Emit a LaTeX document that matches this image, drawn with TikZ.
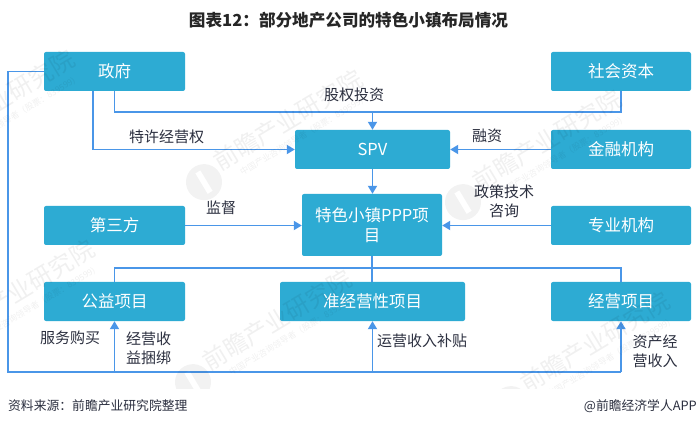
\documentclass[tikz,border=0pt]{standalone}
\usepackage{fontspec}
\setmainfont{Noto Sans CJK SC}
\usetikzlibrary{arrows.meta}
\definecolor{boxc}{HTML}{2DABD3}
\definecolor{linec}{HTML}{4A96E8}
\definecolor{labc}{HTML}{2B2F3F}
\newcommand{\wmark}[3]{%
  \begin{scope}[shift={(#1,#2)},rotate=31]
    \node[wmtext,transform shape,font=\fontsize{24}{24}\selectfont] (wm#3a) at (0,0) {前瞻产业研究院};
    \node[wmtext,transform shape,font=\fontsize{8.5}{9}\selectfont] (wm#3b) at (6,21) {中国产业咨询领导者（股票：839599）};
    \fill[black,opacity=.05,even odd rule] (-104,10) circle (18) (-107,-2) rectangle (-101,22);
  \end{scope}}
\tikzset{
  x=1pt,y=-1pt,
  wmtext/.style={inner sep=0,text=black,text opacity=.06},
  boxn/.style={fill=boxc,rounded corners=2pt,text=white,align=center,inner sep=0,
    font=\fontsize{16.5}{20}\selectfont},
  lab/.style={text=labc,align=center,inner sep=0,font=\fontsize{15}{19}\selectfont},
  foot/.style={text=labc,inner sep=0,font=\fontsize{12.8}{15}\selectfont},
  conn/.style={draw=linec,line width=1.8pt,line join=miter},
  tip/.style={conn,-{Triangle[length=8pt,width=9pt]}},
}
\begin{document}
\begin{tikzpicture}
\useasboundingbox (0,0) rectangle (698,427);
\fill[white] (0,0) rectangle (698,427);
% boxes
\node[boxn,minimum width=141pt,minimum height=39pt] (gov) at (114.5,71.5) {政府};
\node[boxn,minimum width=140pt,minimum height=39pt] (soc) at (621,71.5) {社会资本};
\node[boxn,minimum width=155pt,minimum height=39pt] (spv) at (372.5,149.5) {SPV};
\node[boxn,minimum width=140pt,minimum height=39pt] (fin) at (621,149.5) {金融机构};
\node[boxn,minimum width=141pt,minimum height=39pt] (third) at (114.5,225.5) {第三方};
\node[boxn,minimum width=140pt,minimum height=62pt] (ppp) at (372,225) {特色小镇PPP项\\目};
\node[boxn,minimum width=140pt,minimum height=39pt] (pro) at (621,225.5) {专业机构};
\node[boxn,minimum width=141pt,minimum height=39pt] (pub) at (114.5,301.5) {公益项目};
\node[boxn,minimum width=185pt,minimum height=39pt] (semi) at (372.5,301.5) {准经营性项目};
\node[boxn,minimum width=140pt,minimum height=39pt] (biz) at (621,301.5) {经营项目};
% routing coordinates
\coordinate (xfr) at (93,0);
\coordinate (ytop) at (0,112);
\coordinate (ybus) at (0,268);
\coordinate (yloop) at (0,372);
\coordinate (xloop) at (8,0);
% connectors
\draw[conn] (gov.south) -- (gov.south |- ytop) -- (soc.south |- ytop) -- (soc.south);
\draw[tip] (spv.north |- ytop) -- (spv.north);
\draw[tip] (gov.south -| xfr) -- (xfr |- spv.west) -- (spv.west);
\draw[tip] (fin.west) -- (spv.east);
\draw[tip] (spv.south) -- (ppp.north -| spv.south);
\draw[tip] (third.east) -- (third.east -| ppp.west);
\draw[tip] (pro.west) -- (pro.west -| ppp.east);
\draw[conn] (ppp.south) -- (ppp.south |- semi.north);
\draw[conn] (pub.north) -- (pub.north |- ybus) -- (biz.north |- ybus) -- (biz.north);
\draw[conn] (gov.west) -- (gov.west -| xloop) -- (xloop |- yloop) -- (biz.south |- yloop);
\draw[tip] (pub.south |- yloop) -- (pub.south);
\draw[tip] (semi.south |- yloop) -- (semi.south);
\draw[tip] (biz.south |- yloop) -- (biz.south);
% labels
\node[lab] (l1) at (354,95) {股权投资};
\node[lab] (l2) at (166.5,137) {特许经营权};
\node[lab] (l3) at (221,208) {监督};
\node[lab] (l4) at (487,136) {融资};
\node[lab] (l5) at (504,201.5) {政策技术\\咨询};
\node[lab] (l6) at (70,338) {服务购买};
\node[lab] (l7) at (148.5,348.5) {经营收\\益捆绑};
\node[lab] (l8) at (422,341) {运营收入补贴};
\node[lab] (l9) at (655,351.5) {资产经\\营收入};
% title and footer
\node[inner sep=0,text=black!85,font=\fontsize{16.6}{20}\selectfont\bfseries] (title) at (348.5,20) {图表12：部分地产公司的特色小镇布局情况};
\node[foot,anchor=west] (src) at (8,406) {资料来源：前瞻产业研究院整理};
\node[foot,anchor=east] (brand) at (697,406) {@前瞻经济学人APP};
% watermarks
\begin{scope}
\clip (0,40) rectangle (698,388);
\wmark{0}{100}{A}
\wmark{288}{120}{B}
\wmark{547}{140}{C}
\wmark{20}{290}{D}
\wmark{277}{320}{E}
\wmark{595}{342}{F}
\end{scope}
\end{tikzpicture}
\end{document}
